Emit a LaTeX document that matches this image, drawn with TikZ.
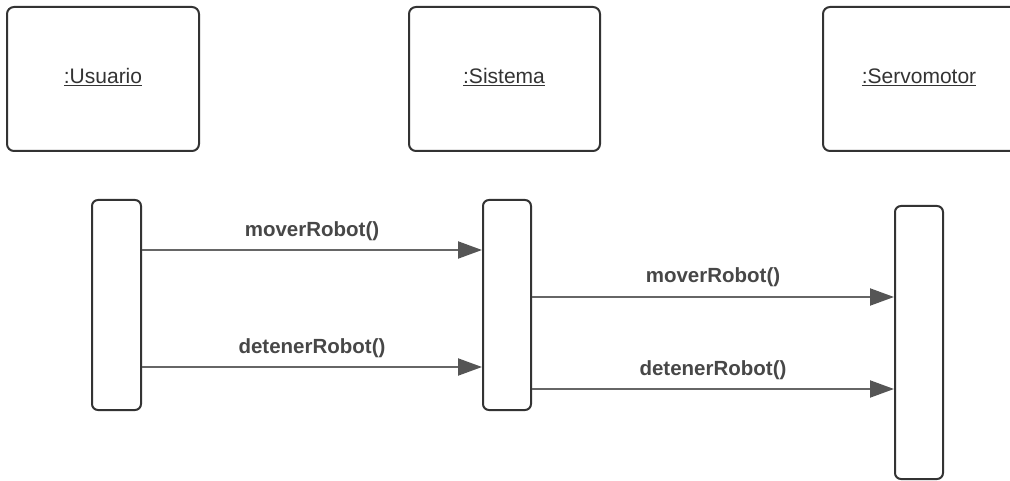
\documentclass[tikz,border=0pt]{standalone}
\usepackage{fontspec}
\setmainfont{Liberation Sans}
\usetikzlibrary{arrows.meta}
\definecolor{boxline}{HTML}{333333}
\definecolor{msgline}{HTML}{666666}
\definecolor{msghead}{HTML}{555555}
\definecolor{txt}{HTML}{333333}
\tikzset{
  objbox/.style={draw=boxline, line width=2pt, rounded corners=7pt, fill=white},
  actbar/.style={draw=boxline, line width=2pt, rounded corners=6pt, fill=white},
  objlabel/.style={font=\fontsize{21}{24}\selectfont, text=txt},
  msg/.style={draw=msgline, line width=2pt, -{Triangle[length=24pt, width=17pt, color=msghead]}},
  msglabel/.style={font=\bfseries\fontsize{20.5}{24}\selectfont, text=txt!90!white}
}
\begin{document}
\begin{tikzpicture}[x=1pt, y=-1pt]
\useasboundingbox (0,0) rectangle (1010,481);
% object boxes
\draw[objbox] (7,7) rectangle (199,151);
\draw[objbox] (409,7) rectangle (600,151);
\draw[objbox] (823,7) rectangle (1022,151);
\node[objlabel] (usuario) at (103,77) {\underline{:Usuario}};
\node[objlabel] (sistema) at (504,77) {\underline{:Sistema}};
\node[objlabel] (servo) at (919,77) {\underline{:Servomotor}};
% activation bars
\node[actbar, minimum width=49pt, minimum height=210pt, inner sep=0pt] (b1) at (116.5,305) {};
\node[actbar, minimum width=48pt, minimum height=210pt, inner sep=0pt] (b2) at (507,305) {};
\node[actbar, minimum width=48pt, minimum height=273pt, inner sep=0pt] (b3) at (919,342.5) {};
% messages
\draw[msg] (b1.east |- 0,250) -- (b2.west |- 0,250);
\draw[msg] (b1.east |- 0,367) -- (b2.west |- 0,367);
\draw[msg] (b2.east |- 0,297) -- (b3.west |- 0,297);
\draw[msg] (b2.east |- 0,389) -- (b3.west |- 0,389);
\node[msglabel] (m1) at (312,231) {moverRobot()};
\node[msglabel] (m2) at (312,348) {detenerRobot()};
\node[msglabel] (m3) at (713,277) {moverRobot()};
\node[msglabel] (m4) at (713,370) {detenerRobot()};
\end{tikzpicture}
\end{document}
